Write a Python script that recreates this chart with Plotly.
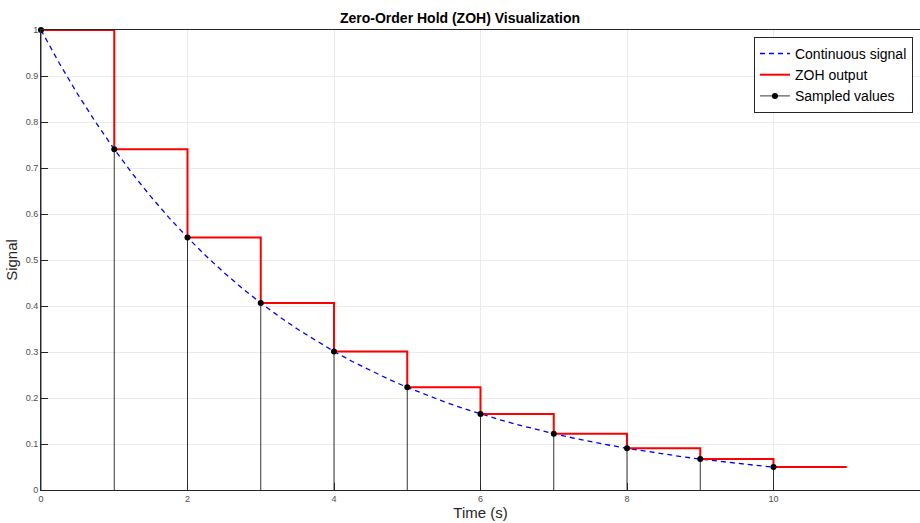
import numpy as np
import plotly.graph_objects as go

# Continuous signal, read every 0.25 s
t_cont = np.arange(41) * 0.25
y_cont = [1.0000, 0.9277, 0.8607, 0.7985, 0.7408, 0.6873, 0.6376, 0.5916,
          0.5488, 0.5092, 0.4724, 0.4382, 0.4066, 0.3772, 0.3499, 0.3247,
          0.3012, 0.2794, 0.2592, 0.2405, 0.2231, 0.2070, 0.1920, 0.1782,
          0.1653, 0.1534, 0.1423, 0.1320, 0.1225, 0.1136, 0.1054, 0.0978,
          0.0907, 0.0842, 0.0781, 0.0724, 0.0672, 0.0623, 0.0578, 0.0537,
          0.0498]

# Sampled values at 1 s intervals
t_samp = [0, 1, 2, 3, 4, 5, 6, 7, 8, 9, 10]
y_samp = [1.0000, 0.7408, 0.5488, 0.4066, 0.3012, 0.2231, 0.1653, 0.1225,
          0.0907, 0.0672, 0.0498]

x_ticks = [0, 2, 4, 6, 8, 10, 12]
y_ticks = [0, 0.1, 0.2, 0.3, 0.4, 0.5, 0.6, 0.7, 0.8, 0.9, 1]

# ZOH holds each sample for one period; last one held to t=11
t_zoh = t_samp + [t_samp[-1] + 1]
y_zoh = y_samp + [y_samp[-1]]

# Stems: vertical segment from 0 up to each sample
stem_x, stem_y = [], []
for tx, vy in zip(t_samp, y_samp):
    stem_x += [tx, tx, None]
    stem_y += [0, vy, None]

fig = go.Figure()
fig.add_trace(go.Scatter(
    x=t_cont, y=y_cont, mode="lines", name="Continuous signal",
    line=dict(color="#0000ff", width=1.3, dash="5px,4px")))
fig.add_trace(go.Scatter(
    x=t_zoh, y=y_zoh, mode="lines", name="ZOH output", line_shape="hv",
    line=dict(color="#ff0000", width=2)))
fig.add_trace(go.Scatter(
    x=stem_x, y=stem_y, mode="lines", showlegend=False,
    line=dict(color="#000000", width=0.8), cliponaxis=False))
fig.add_trace(go.Scatter(
    x=t_samp, y=y_samp, mode="markers", showlegend=False,
    marker=dict(color="#000000", size=6), cliponaxis=False))
# legend entry for the stem plot: line with a dot
fig.add_trace(go.Scatter(
    x=[None], y=[None], mode="lines+markers", name="Sampled values",
    line=dict(color="#000000", width=0.8),
    marker=dict(color="#000000", size=6)))

axis_common = dict(
    showline=True, linecolor="#262626", linewidth=1, mirror=True,
    showgrid=True, gridcolor="#ebebeb", gridwidth=1,
    ticks="inside", ticklen=7, tickcolor="#262626",
    tickfont=dict(family="Liberation Sans, Arial", size=9, color="#4d4d4d"),
    zeroline=False,
)

fig.update_layout(
    width=920, height=523,
    margin=dict(l=41, r=0, t=30, b=33),
    paper_bgcolor="white", plot_bgcolor="white",
    font=dict(family="Liberation Sans, Arial", color="#262626"),
    title=dict(text="<b>Zero-Order Hold (ZOH) Visualization</b>",
               x=0.5, xanchor="center", y=0.965, yanchor="middle",
               font=dict(size=14, color="#000000")),
    xaxis=dict(range=[0, 12], tickvals=x_ticks, **axis_common,
               title=dict(text="Time (s)", font=dict(size=15), standoff=2)),
    yaxis=dict(range=[0, 1], tickvals=y_ticks, **axis_common,
               title=dict(text="Signal", font=dict(size=15), standoff=4)),
    legend=dict(x=0.992, y=0.985, xanchor="right", yanchor="top",
                bgcolor="white", bordercolor="#262626", borderwidth=1,
                font=dict(size=14, color="#000000"),
                tracegroupgap=0, itemwidth=30),
    showlegend=True,
)

fig.write_html("out.html")
